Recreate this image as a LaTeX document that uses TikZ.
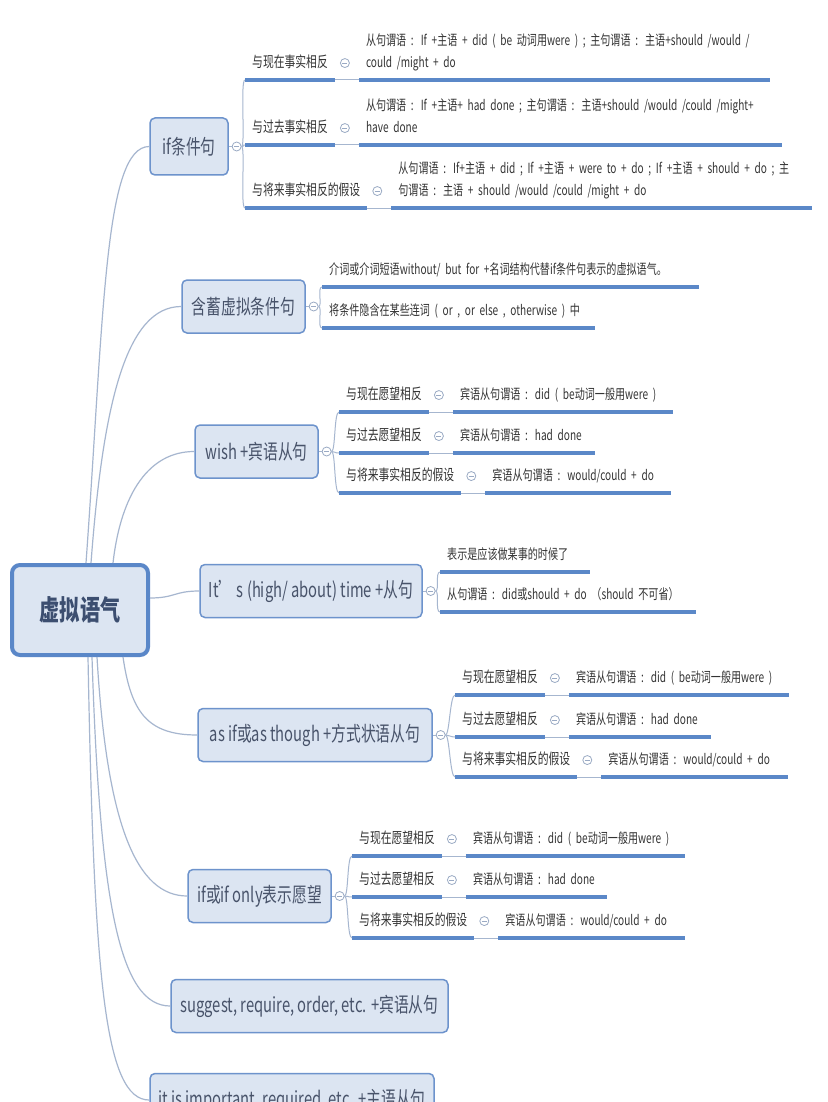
\documentclass[tikz,border=0pt]{standalone}
\usepackage{fontspec}
\setmainfont{Noto Sans CJK SC}[FakeStretch=0.72]
\newfontfamily\detailfont{Noto Sans CJK SC}[FakeStretch=0.72, WordSpace=0.6]
\usetikzlibrary{positioning}
\definecolor{boxfill}{HTML}{DCE5F2}
\definecolor{boxblue}{HTML}{6D93CC}
\definecolor{rootblue}{HTML}{5A87C8}
\definecolor{lineblue}{HTML}{5B88C8}
\definecolor{twiggray}{HTML}{A6B6CF}
\definecolor{foldgray}{HTML}{9AAAC4}
\definecolor{darktext}{HTML}{333333}
\definecolor{topictext}{HTML}{48536A}
\definecolor{roottext}{HTML}{3C4E70}
\tikzset{
  root/.style    = {draw=rootblue, line width=4pt, fill=boxfill, rounded corners=8pt,
                    minimum width=136pt, minimum height=90pt, text=roottext,
                    font=\fontsize{28}{30}\selectfont\bfseries},
  topic/.style   = {draw=boxblue, line width=1.5pt, fill=boxfill, rounded corners=5pt,
                    minimum height=53pt, inner xsep=8pt, text=topictext,
                    font=\fontsize{20.5}{24}\selectfont},
  lab/.style     = {anchor=south west, inner xsep=7pt, inner ysep=5.5pt, text=darktext,
                    font=\fontsize{15}{22.5}\selectfont,
                    execute at begin node=\strut, execute at end node=\strut},
  detail/.style  = {lab, text width=#1, align=left,
                    font=\detailfont\fontsize{14}{22.5}\selectfont},
  fold/.style    = {circle, draw=foldgray, fill=white, line width=0.8pt, minimum size=9pt,
                    inner sep=0pt, path picture={\draw [foldgray, line width=0.8pt]
                    ([xshift=-2.5pt]path picture bounding box.center) --
                    ([xshift=2.5pt]path picture bounding box.center);}},
  uline/.style   = {draw=lineblue, line width=3.5pt},
  twig/.style    = {draw=twiggray, line width=1pt},
  branch/.style  = {draw=twiggray, line width=1.2pt},
}
\begin{document}
\begin{tikzpicture}[x=1pt, y=-1pt]
	\useasboundingbox (0,0) rectangle (827,1102);
	\clip (0,0) rectangle (827,1102);
	\fill [white] (0,0) rectangle (827,1102);
	% Main Topics %
	\node [root] (root) at (80,610) {虚拟语气};
	\node [topic, minimum width=78pt, minimum height=57pt] (cond) at (189,146.5) {if条件句};
	\node [topic, minimum width=123pt] (implied) at (243.5,306.5) {含蓄虚拟条件句};
	\node [topic, minimum width=123pt] (wish) at (256.5,451.5) {wish +宾语从句};
	\node [topic, minimum width=222pt] (time) at (311,591) {It’ s (high/ about) time +从句};
	\node [topic, minimum width=234pt] (asif) at (315,735) {as if或as though +方式状语从句};
	\node [topic, minimum width=143pt] (ifonly) at (259.5,896) {if或if only表示愿望};
	\node [topic, minimum width=277pt] (suggest) at (309.5,1006) {suggest, require, order, etc. +宾语从句};
	\node [topic, minimum width=284pt] (important) at (292,1100) {it is important, required, etc. +主语从句};
	% Fold Markers %
	\node [fold, right=3pt of cond] (condm) {};
	\node [fold, right=3pt of implied] (impliedm) {};
	\node [fold, right=3pt of wish] (wishm) {};
	\node [fold, right=3pt of time] (timem) {};
	\node [fold, right=3pt of asif] (asifm) {};
	\node [fold, right=3pt of ifonly] (ifonlym) {};
	% Branches from Root %
	\draw [branch] ([xshift=6]root.north) .. controls +(18,-250) and +(-45,0) .. (cond.west);
	\draw [branch] ([xshift=11]root.north) .. controls +(12,-160) and +(-55,0) .. (implied.west);
	\draw [branch] ([xshift=33]root.north) .. controls +(8,-70) and +(-45,0) .. (wish.west);
	\draw [branch] ([yshift=12]root.east) .. controls +(25,0) and +(-25,0) .. (time.west);
	\draw [branch] ([xshift=43]root.south) .. controls +(8,55) and +(-50,0) .. (asif.west);
	\draw [branch] ([xshift=17]root.south) .. controls +(10,170) and +(-50,0) .. (ifonly.west);
	\draw [branch] ([xshift=12]root.south) .. controls +(8,250) and +(-50,0) .. (suggest.west);
	\draw [branch] ([xshift=8]root.south) .. controls +(6,320) and +(-45,0) .. (important.west);
	% if条件句 %
	\node [lab] (c1) at (245,80) {与现在事实相反};
	\node [fold, right=5pt of c1] (c1m) {};
	\node [detail=397pt] (c1t) at ([xshift=9]c1m.east |- c1.south)
		{从句谓语 : If +主语 + did ( be 动词用were ) ; 主句谓语 : 主语+should /would /\\could /might + do};
	\node [lab] (c2) at (245,145) {与过去事实相反};
	\node [fold, right=5pt of c2] (c2m) {};
	\node [detail=409pt] (c2t) at ([xshift=9]c2m.east |- c2.south)
		{从句谓语 : If +主语+ had done ; 主句谓语 : 主语+should /would /could /might+\\have done};
	\node [lab] (c3) at (245,208) {与将来事实相反的假设};
	\node [fold, right=5pt of c3] (c3m) {};
	\node [detail=406pt] (c3t) at ([xshift=9]c3m.east |- c3.south)
		{从句谓语 : If+主语 + did ; If +主语 + were to + do ; If +主语 + should + do ; 主\\句谓语 : 主语 + should /would /could /might + do};
	% 含蓄虚拟条件句 %
	\node [detail=363pt] (i1) at (322,287) {介词或介词短语without/ but for +名词结构代替if条件句表示的虚拟语气。};
	\node [detail=259pt] (i2) at (322,328) {将条件隐含在某些连词 ( or , or else , otherwise ) 中};
	% wish +宾语从句 %
	\node [lab] (w1) at (339,412) {与现在愿望相反};
	\node [fold, right=5pt of w1] (w1m) {};
	\node [detail=206pt] (w1t) at ([xshift=9]w1m.east |- w1.south) {宾语从句谓语 : did ( be动词一般用were )};
	\node [lab] (w2) at (339,453) {与过去愿望相反};
	\node [fold, right=5pt of w2] (w2m) {};
	\node [detail=128pt] (w2t) at ([xshift=9]w2m.east |- w2.south) {宾语从句谓语 : had done};
	\node [lab] (w3) at (339,493) {与将来事实相反的假设};
	\node [fold, right=5pt of w3] (w3m) {};
	\node [detail=171pt] (w3t) at ([xshift=9]w3m.east |- w3.south) {宾语从句谓语 : would/could + do};
	% It's time %
	\node [detail=136pt] (t1) at (440,572) {表示是应该做某事的时候了};
	\node [detail=242pt] (t2) at (440,612) {从句谓语 : did或should + do （should 不可省）};
	% as if %
	\node [lab] (a1) at (455,695) {与现在愿望相反};
	\node [fold, right=5pt of a1] (a1m) {};
	\node [detail=206pt] (a1t) at ([xshift=9]a1m.east |- a1.south) {宾语从句谓语 : did ( be动词一般用were )};
	\node [lab] (a2) at (455,737) {与过去愿望相反};
	\node [fold, right=5pt of a2] (a2m) {};
	\node [detail=128pt] (a2t) at ([xshift=9]a2m.east |- a2.south) {宾语从句谓语 : had done};
	\node [lab] (a3) at (455,777) {与将来事实相反的假设};
	\node [fold, right=5pt of a3] (a3m) {};
	\node [detail=172pt] (a3t) at ([xshift=9]a3m.east |- a3.south) {宾语从句谓语 : would/could + do};
	% if only %
	\node [lab] (o1) at (352,856) {与现在愿望相反};
	\node [fold, right=5pt of o1] (o1m) {};
	\node [detail=205pt] (o1t) at ([xshift=9]o1m.east |- o1.south) {宾语从句谓语 : did ( be动词一般用were )};
	\node [lab] (o2) at (352,897) {与过去愿望相反};
	\node [fold, right=5pt of o2] (o2m) {};
	\node [detail=127pt] (o2t) at ([xshift=9]o2m.east |- o2.south) {宾语从句谓语 : had done};
	\node [lab] (o3) at (352,938) {与将来事实相反的假设};
	\node [fold, right=5pt of o3] (o3m) {};
	\node [detail=172pt] (o3t) at ([xshift=9]o3m.east |- o3.south) {宾语从句谓语 : would/could + do};
	% Connection %
	\foreach \p/\m in {cond/condm, implied/impliedm, wish/wishm, time/timem, asif/asifm, ifonly/ifonlym}
		\draw [twig] (\p.east) -- (\m.west);
	\foreach \m/\n in {condm/c1, condm/c2, condm/c3, impliedm/i1, impliedm/i2,
	                   wishm/w1, wishm/w2, wishm/w3, timem/t1, timem/t2,
	                   asifm/a1, asifm/a2, asifm/a3, ifonlym/o1, ifonlym/o2, ifonlym/o3}
		\draw [twig] (\m.east) .. controls +(4,0) and +(-5,0) .. (\n.south west);
	\foreach \a/\b in {c1/c1t, c2/c2t, c3/c3t, w1/w1t, w2/w2t, w3/w3t,
	                   a1/a1t, a2/a2t, a3/a3t, o1/o1t, o2/o2t, o3/o3t}
		\draw [twig] (\a.south east) -- (\b.south west);
	\foreach \n in {c1, c1t, c2, c2t, c3, c3t, i1, i2, w1, w1t, w2, w2t, w3, w3t, t1, t2,
	                a1, a1t, a2, a2t, a3, a3t, o1, o1t, o2, o2t, o3, o3t}
		\draw [uline] (\n.south west) -- (\n.south east);
\end{tikzpicture}
\end{document}
